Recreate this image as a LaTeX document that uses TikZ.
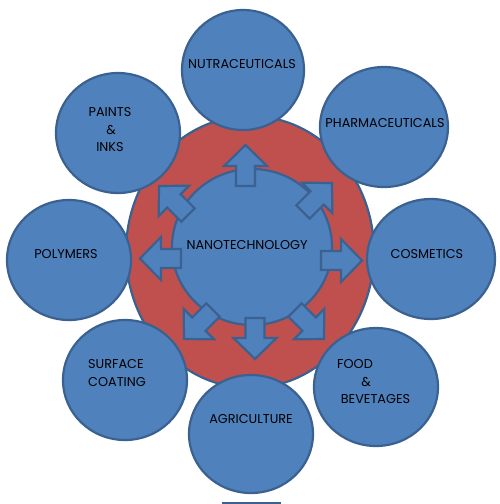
\documentclass[tikz,border=0pt]{standalone}
\usepackage{fontspec}
\setmainfont{Poppins}
\usetikzlibrary{shapes.geometric}
\definecolor{bfill}{HTML}{4F81BD}
\definecolor{bline}{HTML}{3A6190}
\definecolor{rfill}{HTML}{C0504D}
\newcommand{\blockarr}[3]{%
  \begin{scope}[shift={(#1,#2)},rotate=#3]
    \draw[blockarrow] (0,-9.5) -- (20,-9.5) -- (20,-21.5) -- (41,0) -- (20,21.5) -- (20,9.5) -- (0,9.5) -- cycle;
  \end{scope}}
\begin{document}
\begin{tikzpicture}[x=1pt,y=-1pt,
  blob/.style={ellipse, draw=bline, fill=bfill, line width=2.2pt, inner sep=0pt},
  lbl/.style={font=\fontsize{12.8}{15}\selectfont, text=black, inner sep=0pt},
  blockarrow/.style={draw=bline, fill=bfill, line width=2.2pt, line join=miter}]
\useasboundingbox (0,0) rectangle (500,504);
\clip (0,0) rectangle (500,504);
% red ring
\node[ellipse, draw=bline, fill=rfill, line width=2.2pt, minimum width=248pt, minimum height=272pt, inner sep=0pt] (ring) at (250,252) {};
% hub
\node[blob, minimum width=160pt, minimum height=156pt] (hub) at (252,247) {};
% block arrows
\blockarr{245.5}{186}{90}
\blockarr{321}{260.5}{0}
\blockarr{181}{258.5}{180}
\blockarr{255}{318}{270}
\blockarr{303}{212}{45}
\blockarr{295}{310}{315}
\blockarr{213}{310}{225}
\blockarr{188}{215}{135}
\node[lbl] (hubtext) at (247,245) {NANOTECHNOLOGY};
% outer circles
\node[blob, minimum width=122pt, minimum height=120pt] (nutra) at (243,70) {};
\node[blob, minimum width=128pt, minimum height=120pt] (pharma) at (384,127) {};
\node[blob, minimum width=128pt, minimum height=120pt] (cosm) at (431,259) {};
\node[blob, minimum width=124pt, minimum height=118pt] (food) at (376,387) {};
\node[blob, minimum width=124pt, minimum height=118pt] (agri) at (251,434) {};
\node[blob, minimum width=124pt, minimum height=120pt] (surf) at (125,380) {};
\node[blob, minimum width=124pt, minimum height=120pt] (poly) at (69,260) {};
\node[blob, minimum width=124pt, minimum height=120pt] (paint) at (118,133) {};
% labels
\node[lbl] (tnutra) at (242,64) {NUTRACEUTICALS};
\node[lbl] (tpharma) at (385,123) {PHARMACEUTICALS};
\node[lbl] (tcosm) at (427,254) {COSMETICS};
\node[lbl] (tpoly) at (66,254) {POLYMERS};
\node[lbl] (tagri) at (251,419) {AGRICULTURE};
\node[lbl] (tpaint1) at (110,112) {PAINTS};
\node[lbl] (tpaint2) at (111,130) {\&};
\node[lbl] (tpaint3) at (110,147) {INKS};
\node[lbl, anchor=west] (tsurf1) at (88,364) {SURFACE};
\node[lbl, anchor=west] (tsurf2) at (88,382) {COATING};
\node[lbl] (tfood1) at (355,364) {FOOD};
\node[lbl] (tfood2) at (366,382) {\&};
\node[lbl] (tfood3) at (375.5,399) {BEVETAGES};
% partial shape at bottom edge
\node[draw=bline, fill=bfill, line width=2pt, minimum width=57pt, minimum height=20pt, inner sep=0pt, anchor=north] (stub) at (251.5,502) {};
\end{tikzpicture}
\end{document}
